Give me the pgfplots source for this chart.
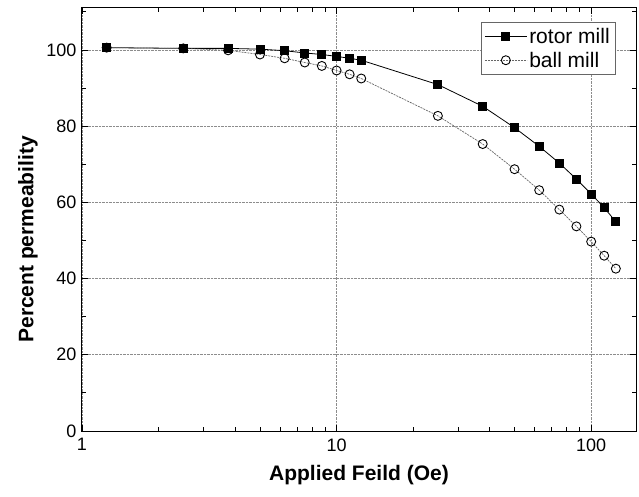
\documentclass[border=0pt]{standalone}
\usepackage{fontspec}
\setmainfont{Liberation Sans}
\usepackage{pgfplots}
\pgfplotsset{compat=1.18}
\usetikzlibrary{calc}

\begin{document}
\begin{tikzpicture}
\begin{axis}[
  at={(0,0)}, anchor=south west,
  scale only axis, width=554pt, height=423pt,
  xmode=log, xmin=1, xmax=150, ymin=0, ymax=111,
  xtick={1,10,100}, xticklabels={1,10,100},
  ytick={0,20,...,100}, minor ytick={10,30,...,110},
  grid=major,
  major grid style={black!45, densely dotted, line width=0.6pt},
  tick align=inside, major tick length=6pt, minor tick length=4pt,
  tick style={black, line width=0.8pt},
  axis line style={line width=1pt},
  /pgf/number format/assume math mode=true,
  every tick label/.append style={font=\fontsize{18}{20}\selectfont},
  xticklabel style={yshift=-4pt},
  yticklabel style={xshift=-2pt},
  xlabel={Applied Feild (Oe)}, ylabel={Percent permeability},
  label style={font=\fontsize{21}{24}\selectfont\bfseries},
  xlabel style={at={(axis description cs:0.5,-0.104)}, anchor=center},
  ylabel style={at={(axis description cs:-0.0975,0.453)}, anchor=center},
  legend style={at={(0.962,0.967)}, anchor=north east, draw=black!60,
    fill=white, font=\fontsize{21}{24}\selectfont, inner xsep=3pt,
    inner ysep=4pt, row sep=3pt},
  legend cell align=left,
  legend image code/.code={\draw[mark repeat=2,mark phase=2]
    plot coordinates {(0pt,0pt) (21pt,0pt) (42pt,0pt)};},
]
% rotor mill
\addplot[black, line width=0.8pt, mark=square*, mark size=4pt,
  mark options={solid, fill=black}] coordinates {
  (1.25,100.6) (2.5,100.4) (3.75,100.4) (5,100.2) (6.25,99.8) (7.5,99.2)
  (8.75,98.8) (10,98.3) (11.25,97.8) (12.5,97.3) (25,90.9) (37.5,85.2)
  (50,79.6) (62.5,74.7) (75,70.3) (87.5,66.1) (100,62.2) (112.5,58.6)
  (125,54.9)
};
\addlegendentry{rotor mill}
% ball mill
\addplot[black!60, line width=0.7pt, dash pattern=on 2pt off 1pt, mark=o,
  mark size=4.5pt, mark options={solid, black, line width=0.9pt}] coordinates {
  (1.25,100.6) (2.5,100.4) (3.75,99.9) (5,98.8) (6.25,97.8) (7.5,96.7)
  (8.75,95.8) (10,94.6) (11.25,93.6) (12.5,92.5) (25,82.7) (37.5,75.3)
  (50,68.7) (62.5,63.2) (75,58.1) (87.5,53.7) (100,49.7) (112.5,46.0)
  (125,42.6)
};
\addlegendentry{ball mill}
\end{axis}
\pgfresetboundingbox
\path[use as bounding box] ($(current axis.south west)+(-82pt,-65pt)$)
  rectangle ($(current axis.north east)+(3pt,8pt)$);
\end{tikzpicture}
\end{document}
